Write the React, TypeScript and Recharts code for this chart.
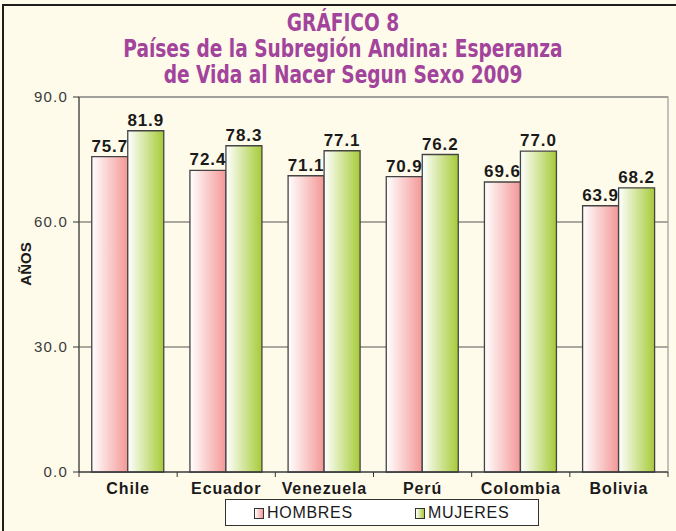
import React from 'react';
import {
    BarChart,
    Bar,
    XAxis,
    YAxis,
    CartesianGrid,
    ReferenceArea,
    LabelList,
} from 'recharts';

const countries = ['Chile', 'Ecuador', 'Venezuela', 'Perú', 'Colombia', 'Bolivia'];
const hombres = [75.7, 72.4, 71.1, 70.9, 69.6, 63.9];
const mujeres = [81.9, 78.3, 77.1, 76.2, 77.0, 68.2];
const yTicks = [0, 30, 60, 90];
const titleLines = [
    'GRÁFICO 8',
    'Países de la Subregión Andina: Esperanza',
    'de Vida al Nacer Segun Sexo 2009',
];

const data = countries.map((c, i) => ({ country: c, hombres: hombres[i], mujeres: mujeres[i] }));

const ARIAL = "'Liberation Sans', Arial, sans-serif";
const NARROW = "'Liberation Sans Narrow', 'DejaVu Sans Condensed', 'Liberation Sans', sans-serif";

const CountryTick = (props: any) => {
    const { x, y, payload, index, visibleTicksCount, width } = props;
    const half = payload?.offset || width / visibleTicksCount / 2;
    return (
        <g>
            <line x1={x - half} x2={x - half} y1={y} y2={y + 5} stroke="#333" />
            {index === visibleTicksCount - 1 && (
                <line x1={x + half} x2={x + half} y1={y} y2={y + 5} stroke="#333" />
            )}
            <text
                x={x}
                y={y + 22}
                textAnchor="middle"
                fontFamily={ARIAL}
                fontWeight="bold"
                fontSize={16}
                letterSpacing={0.9}
                fill="#1a1a1a"
            >
                {payload.value}
            </text>
        </g>
    );
};

const Swatch = ({ grad }: { grad: string }) => (
    <span
        style={{
            display: 'inline-block',
            width: 8,
            height: 9,
            border: '1px solid #333',
            background: grad,
            marginRight: 3,
            verticalAlign: 'middle',
        }}
    />
);

const labelStyle = {
    fontFamily: ARIAL,
    fontWeight: 'bold',
    fontSize: 17,
    letterSpacing: 0.9,
    fill: '#1a1a1a',
};

export default function App() {
    return (
        <div
            style={{
                position: 'absolute',
                left: 0,
                top: 0,
                width: 676,
                height: 531,
                overflow: 'hidden',
                background: '#fffbea',
                fontFamily: ARIAL,
            }}
        >
            <div
                style={{
                    position: 'absolute',
                    left: 2,
                    top: 4,
                    width: 720,
                    height: 600,
                    border: '2.5px solid #1e1e1e',
                }}
            />
            <div
                style={{
                    position: 'absolute',
                    left: 0,
                    width: 686,
                    top: 10,
                    textAlign: 'center',
                    color: '#a2449b',
                    fontFamily: NARROW,
                    fontWeight: 'bold',
                    fontSize: 24,
                    lineHeight: '26px',
                    transform: 'scaleX(0.86)',
                    transformOrigin: '343px 0',
                }}
            >
                {titleLines.map((t) => (
                    <div key={t}>{t}</div>
                ))}
            </div>
            <BarChart
                width={676}
                height={531}
                data={data}
                margin={{ top: 97, right: 8, left: 0, bottom: 29 }}
                barCategoryGap="13%"
                barGap={0}
                style={{ position: 'absolute', left: 0, top: 0 }}
            >
                <defs>
                    <linearGradient id="pinkGrad" x1="0" y1="0" x2="1" y2="0">
                        <stop offset="0%" stopColor="#ffffff" />
                        <stop offset="100%" stopColor="#f39896" />
                    </linearGradient>
                    <linearGradient id="greenGrad" x1="0" y1="0" x2="1" y2="0">
                        <stop offset="0%" stopColor="#ffffff" />
                        <stop offset="100%" stopColor="#a6cb38" />
                    </linearGradient>
                </defs>
                <CartesianGrid vertical={false} stroke="#555" />
                <ReferenceArea y1={0} y2={90} stroke="#9a9a9a" strokeWidth={1.2} fill="none" />
                <XAxis
                    dataKey="country"
                    height={30}
                    tickSize={0}
                    tickMargin={0}
                    tickLine={false}
                    axisLine={{ stroke: '#333' }}
                    tick={<CountryTick />}
                    interval={0}
                />
                <YAxis
                    width={79}
                    domain={[0, 90]}
                    ticks={yTicks}
                    tickFormatter={(v: number) => v.toFixed(1)}
                    tickSize={6}
                    tickMargin={5}
                    axisLine={{ stroke: '#333' }}
                    tickLine={{ stroke: '#333' }}
                    tick={{ fill: '#3a3a3a', fontSize: 15, fontFamily: ARIAL, letterSpacing: 1.2 }}
                    label={{
                        content: () => (
                            <text
                                x={31}
                                y={264}
                                transform="rotate(-90 31 264)"
                                textAnchor="middle"
                                fontFamily={ARIAL}
                                fontWeight="bold"
                                fontSize={15}
                                fill="#1a1a1a"
                            >
                                AÑOS
                            </text>
                        ),
                    }}
                />
                <Bar
                    dataKey="hombres"
                    name="HOMBRES"
                    fill="url(#pinkGrad)"
                    stroke="#444"
                    strokeWidth={1.3}
                    isAnimationActive={false}
                >
                    <LabelList
                        dataKey="hombres"
                        position="top"
                        offset={5}
                        formatter={(v: number) => v.toFixed(1)}
                        style={labelStyle}
                    />
                </Bar>
                <Bar
                    dataKey="mujeres"
                    name="MUJERES"
                    fill="url(#greenGrad)"
                    stroke="#444"
                    strokeWidth={1.3}
                    isAnimationActive={false}
                >
                    <LabelList
                        dataKey="mujeres"
                        position="top"
                        offset={5}
                        formatter={(v: number) => v.toFixed(1)}
                        style={labelStyle}
                    />
                </Bar>
            </BarChart>
            <div
                style={{
                    position: 'absolute',
                    left: 225,
                    top: 499,
                    width: 314,
                    height: 27,
                    boxSizing: 'border-box',
                    border: '1px solid #333',
                    background: '#ffffff',
                    fontSize: 16,
                    letterSpacing: 0.7,
                    color: '#1a1a1a',
                    lineHeight: '25px',
                }}
            >
                <span style={{ position: 'absolute', left: 28 }}>
                    <Swatch grad="linear-gradient(to right, #ffffff, #f39896)" />
                    HOMBRES
                </span>
                <span style={{ position: 'absolute', left: 189 }}>
                    <Swatch grad="linear-gradient(to right, #ffffff, #a6cb38)" />
                    MUJERES
                </span>
            </div>
        </div>
    );
}
